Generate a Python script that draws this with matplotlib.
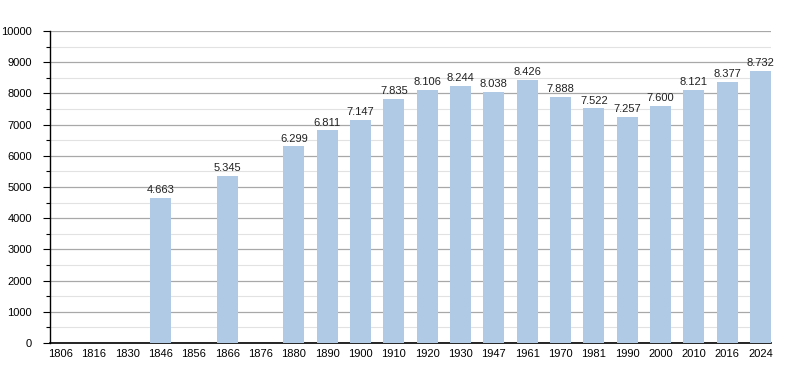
import matplotlib
matplotlib.use("Agg")
import matplotlib.pyplot as plt
from matplotlib.ticker import MultipleLocator

years = ["1806", "1816", "1830", "1846", "1856", "1866", "1876", "1880",
         "1890", "1900", "1910", "1920", "1930", "1947", "1961", "1970",
         "1981", "1990", "2000", "2010", "2016", "2024"]
population = [None, None, None, 4663, None, 5345, None, 6299,
              6811, 7147, 7835, 8106, 8244, 8038, 8426, 7888,
              7522, 7257, 7600, 8121, 8377, 8732]

plt.rcParams["font.family"] = ["Liberation Sans", "DejaVu Sans"]

fig = plt.figure(figsize=(8.0, 3.73), dpi=100)
ax = fig.add_axes([50 / 800, 30 / 373, 721 / 800, 312 / 373])

width = 0.63
for i, v in enumerate(population):
    if v is None:
        continue
    ax.bar(i, v, width=width, align="edge", color="#b0cae5", zorder=3)
    label = f"{v:,}".replace(",", ".")
    ax.text(i + width / 2, v + 90, label, ha="center", va="bottom",
            fontsize=8, color="#222222", zorder=4)

ax.set_xlim(0, len(years) - 1 + width)
ax.set_ylim(0, 10000)
ax.set_xticks([i + width / 2 for i in range(len(years))])
ax.set_xticklabels(years, fontsize=8)
ax.yaxis.set_major_locator(MultipleLocator(1000))
ax.yaxis.set_minor_locator(MultipleLocator(500))
ax.tick_params(axis="y", which="major", length=5, width=0.8, labelsize=8, pad=8)
ax.tick_params(axis="y", which="minor", length=3, width=0.8)
ax.tick_params(axis="x", length=0, pad=4)

ax.grid(axis="y", which="major", color="#a8a8a8", linewidth=0.9, zorder=0)
ax.grid(axis="y", which="minor", color="#e2e2e2", linewidth=0.8, zorder=0)
ax.set_axisbelow(True)

for side in ("top", "right"):
    ax.spines[side].set_visible(False)
ax.spines["left"].set_linewidth(1.0)
ax.spines["bottom"].set_linewidth(1.2)

fig.savefig("out.png", dpi=100)
